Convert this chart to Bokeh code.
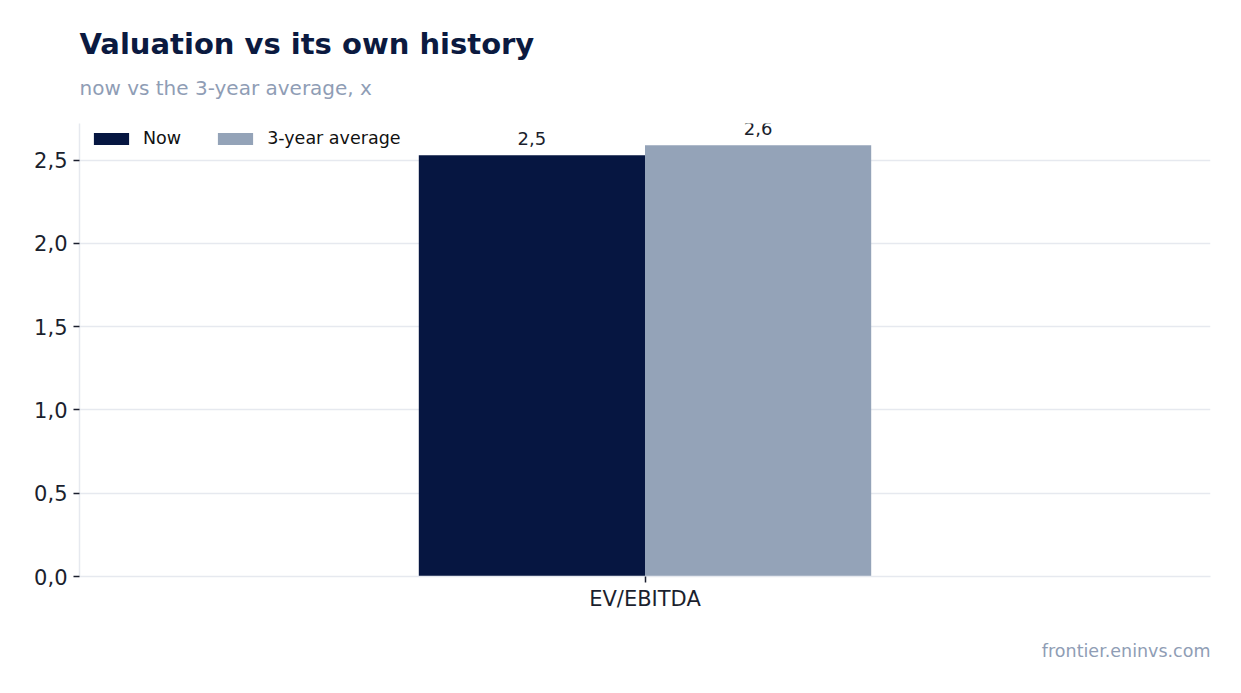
from bokeh.plotting import figure
from bokeh.models import (ColumnDataSource, FactorRange, Title, Legend, LegendItem,
                          FixedTicker, CustomJSTickFormatter, LabelSet)
from bokeh.core.properties import value
from bokeh.transform import dodge
from bokeh.embed import file_html
from bokeh.resources import INLINE

categories = ["EV/EBITDA"]
now_values = [2.53]
avg_values = [2.59]
series_names = ["Now", "3-year average"]
y_ticks = [0.0, 0.5, 1.0, 1.5, 2.0, 2.5]

FONT = "DejaVu Sans"
NAVY = "#061641"
SLATE = "#94a3b8"
GRID = "#e6e9ef"
TEXT = "#1b1f2e"

src = ColumnDataSource(dict(
    cat=categories,
    now=now_values,
    avg=avg_values,
    now_lbl=[f"{v:.1f}".replace(".", ",") for v in now_values],
    avg_lbl=[f"{v:.1f}".replace(".", ",") for v in avg_values],
))

p = figure(x_range=FactorRange(factors=categories, range_padding=0),
           y_range=(0, 2.72), width=1225, height=685,
           output_backend="svg", toolbar_location=None,
           min_border_left=79, min_border_right=15,
           min_border_top=123, min_border_bottom=109)
p.title = None

r_now = p.vbar(x=dodge("cat", -0.1, range=p.x_range), top="now", width=0.2,
               source=src, fill_color=NAVY, line_color=None)
r_avg = p.vbar(x=dodge("cat", 0.1, range=p.x_range), top="avg", width=0.2,
               source=src, fill_color=SLATE, line_color=None)

for col, off in (("now", -0.1), ("avg", 0.1)):
    p.add_layout(LabelSet(x=dodge("cat", off, range=p.x_range), y=col, text=col + "_lbl",
                          source=src, text_align="center", text_baseline="bottom",
                          y_offset=10, text_font=value(FONT), text_font_size="18px",
                          text_color=TEXT))

legend = Legend(items=[LegendItem(label=series_names[0], renderers=[r_now]),
                       LegendItem(label=series_names[1], renderers=[r_avg])],
                location=(10, 428), orientation="horizontal",
                border_line_color=None, background_fill_alpha=0,
                label_text_font=FONT, label_text_font_size="17.5px",
                label_text_color="#111111", glyph_width=44, glyph_height=15,
                spacing=32, padding=0, margin=0, label_standoff=10)
p.add_layout(legend)

# axes
p.yaxis.ticker = FixedTicker(ticks=y_ticks)
p.yaxis.formatter = CustomJSTickFormatter(code="return tick.toFixed(1).replace('.', ',');")
p.yaxis.axis_line_color = GRID
p.yaxis.axis_line_width = 1.5
p.yaxis.major_tick_line_color = TEXT
p.yaxis.major_tick_line_width = 1.5
p.yaxis.major_tick_out = 6
p.yaxis.major_tick_in = 0
p.yaxis.minor_tick_line_color = None
p.yaxis.major_label_text_font = FONT
p.yaxis.major_label_text_font_size = "21px"
p.yaxis.major_label_text_color = TEXT
p.yaxis.major_label_standoff = 6

p.xaxis.axis_line_color = GRID
p.xaxis.axis_line_width = 1.5
p.xaxis.major_tick_line_color = TEXT
p.xaxis.major_tick_line_width = 1.5
p.xaxis.major_tick_out = 6
p.xaxis.major_tick_in = 0
p.xaxis.major_label_text_font = FONT
p.xaxis.major_label_text_font_size = "21px"
p.xaxis.major_label_text_color = TEXT
p.xaxis.major_label_standoff = 4

p.xgrid.grid_line_color = None
p.ygrid.grid_line_color = GRID
p.ygrid.grid_line_width = 1.5
p.outline_line_color = None

# titles (first added -> nearest the frame)
p.add_layout(Title(text=" ", align="left", text_font=FONT, text_font_size="1px",
                   standoff=13), "above")
p.add_layout(Title(text="now vs the 3-year average, x", align="left",
                   text_font=FONT, text_font_size="20px", text_font_style="normal",
                   text_color="#8f9db5", standoff=16), "above")
p.add_layout(Title(text="Valuation vs its own history", align="left",
                   text_font=FONT, text_font_size="29px", text_font_style="bold",
                   text_color="#0b1a40", standoff=10), "above")
p.add_layout(Title(text="frontier.eninvs.com", align="right",
                   text_font=FONT, text_font_size="17.5px", text_font_style="normal",
                   text_color="#8f9db5", standoff=50), "below")

open("out.html", "w").write(file_html(p, INLINE))
